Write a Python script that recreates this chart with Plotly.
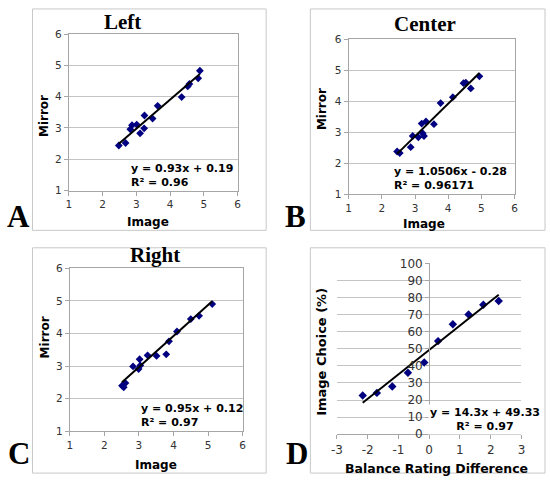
import plotly.graph_objects as go

W, H = 550, 483

# ---------------- data ----------------
left_image = [2.48, 2.68, 2.82, 2.87, 3.01, 3.11, 3.23, 3.24, 3.48, 3.63, 4.34, 4.52, 4.57, 4.83, 4.88]
left_mirror = [2.44, 2.52, 2.96, 3.09, 3.11, 2.83, 2.99, 3.40, 3.30, 3.71, 3.99, 4.33, 4.41, 4.59, 4.83]
left_fit = (0.93, 0.19)

center_image = [2.46, 2.54, 2.87, 2.93, 3.10, 3.20, 3.23, 3.27, 3.33, 3.57, 3.77, 4.14, 4.46, 4.53, 4.68, 4.94]
center_mirror = [2.38, 2.33, 2.52, 2.88, 2.84, 3.28, 2.97, 2.88, 3.35, 3.26, 3.94, 4.13, 4.58, 4.60, 4.41, 4.80]
center_fit = (1.0506, -0.28)

right_image = [2.51, 2.56, 2.61, 2.83, 2.99, 3.02, 3.04, 3.25, 3.51, 3.79, 3.87, 4.10, 4.50, 4.74, 5.12]
right_mirror = [2.40, 2.35, 2.48, 2.99, 2.91, 3.21, 3.02, 3.33, 3.31, 3.36, 3.76, 4.06, 4.44, 4.54, 4.90]
right_fit = (0.95, 0.12)

balance_diff = [-2.16, -1.70, -1.20, -0.69, -0.16, 0.29, 0.77, 1.28, 1.76, 2.26]
image_choice = [22.7, 24.2, 28.0, 36.0, 42.0, 54.5, 64.4, 70.1, 75.8, 78.0]
choice_fit = (14.3, 49.33)

titles = ["Left", "Center", "Right"]
letters = ["A", "B", "C", "D"]
eq_texts = ["y = 0.93x + 0.19<br>R² = 0.96",
            "y = 1.0506x - 0.28<br>R² = 0.96171",
            "y = 0.95x + 0.12<br>R² = 0.97",
            "y = 14.3x + 49.33<br>R² = 0.97"]
mirror_ticks = [1, 2, 3, 4, 5, 6]
choice_ticks = list(range(0, 101, 10))
diff_ticks = [-3, -2, -1, 0, 1, 2, 3]
diff_ticktext = ["-3", "-2", "-1", "0", "1", "2", "3"]

# ---------------- helpers ----------------
def fx(x):
    return x / W

def fy(y):
    return 1 - y / H

MARK = "#000080"
GRID = "#c4c4c4"
FRAME = "#a6a6a6"
TICKFONT = dict(family="DejaVu Sans", size=10.5, color="#333")
TICKFONT_D = dict(family="DejaVu Sans", size=12, color="#333")
BOLD = "DejaVu Sans"

fig = go.Figure()

panels = [
    dict(x=left_image, y=left_mirror, fit=left_fit, xd=(64, 236), yd=(28, 189)),
    dict(x=center_image, y=center_mirror, fit=center_fit, xd=(349, 518), yd=(33, 193)),
    dict(x=right_image, y=right_mirror, fit=right_fit, xd=(65, 241), yd=(269, 437)),
]

layout = dict(width=W, height=H, margin=dict(l=0, r=0, t=0, b=0),
              paper_bgcolor="white", plot_bgcolor="white", showlegend=False)

for i, p in enumerate(panels):
    n = i + 1
    xa = "x" if n == 1 else f"x{n}"
    ya = "y" if n == 1 else f"y{n}"
    fig.add_trace(go.Scatter(x=p["x"], y=p["y"], mode="markers", xaxis=xa, yaxis=ya,
                             marker=dict(symbol="diamond", size=6, color=MARK)))
    m, b = p["fit"]
    x0, x1 = min(p["x"]), max(p["x"])
    fig.add_trace(go.Scatter(x=[x0, x1], y=[m * x0 + b, m * x1 + b], mode="lines",
                             xaxis=xa, yaxis=ya, line=dict(color="black", width=2)))
    common = dict(showline=True, linecolor=FRAME, linewidth=1, mirror=True,
                  ticks="outside", ticklen=4, tickcolor=FRAME, tickfont=TICKFONT,
                  zeroline=False, tickvals=mirror_ticks, range=[1, 6])
    layout["xaxis" if n == 1 else f"xaxis{n}"] = dict(
        domain=[fx(p["xd"][0]), fx(p["xd"][1])], anchor=ya, showgrid=False, **common)
    layout["yaxis" if n == 1 else f"yaxis{n}"] = dict(
        domain=[fy(p["yd"][1]), fy(p["yd"][0])], anchor=xa, showgrid=True,
        gridcolor=GRID, gridwidth=1, **common)

# Panel D
fig.add_trace(go.Scatter(x=balance_diff, y=image_choice, mode="markers", xaxis="x4", yaxis="y4",
                         marker=dict(symbol="diamond", size=6.5, color=MARK)))
m, b = choice_fit
x0, x1 = min(balance_diff), max(balance_diff)
fig.add_trace(go.Scatter(x=[x0, x1], y=[m * x0 + b, m * x1 + b], mode="lines",
                         xaxis="x4", yaxis="y4", line=dict(color="black", width=2)))
dx0, dx1 = 337, 525
layout["xaxis4"] = dict(domain=[fx(dx0), fx(dx1)], anchor="y4", range=[-3, 3],
                        tickvals=diff_ticks, ticktext=diff_ticktext, showgrid=False, zeroline=False,
                        showline=True, linecolor=FRAME, ticks="outside", ticklen=4,
                        tickcolor=FRAME, tickfont=TICKFONT_D)
layout["yaxis4"] = dict(domain=[fy(440), fy(264)], anchor="free",
                        position=fx((dx0 + dx1) / 2), range=[0, 100], tickvals=choice_ticks,
                        showgrid=True, gridcolor=GRID, zeroline=False, showline=True,
                        linecolor=FRAME, ticks="outside", ticklen=4, tickcolor=FRAME,
                        tickfont=TICKFONT_D)

fig.update_layout(**layout)

# panel boxes
boxes = [(27, 2, 265, 230), (310, 2, 549, 230), (27, 248, 265, 480), (310, 248, 549, 480)]
for (x0, y0, x1, y1) in boxes:
    fig.add_shape(type="rect", xref="paper", yref="paper", x0=fx(x0), x1=fx(x1),
                  y0=fy(y1), y1=fy(y0), line=dict(color="#c8c8c8", width=1), layer="below")

ann = []
for t, (cx, cy) in zip(titles, [(119, 15), (427, 17), (152, 255)]):
    ann.append(dict(text="<b>%s</b>" % t, x=fx(cx), y=fy(cy),
                    font=dict(family="Liberation Serif", size=21, color="black")))
for t, (cx, cy) in zip(letters, [(13, 216), (295, 216), (13, 460), (296, 460)]):
    ann.append(dict(text="<b>%s</b>" % t, x=fx(cx), y=fy(cy),
                    font=dict(family="Liberation Serif", size=31, color="black")))
for t, (cx, cy), ang, sz in [("Mirror", (38, 112), -90, 12), ("Image", (145, 221), 0, 12),
                             ("Mirror", (322, 105), -90, 12), ("Image", (426, 223), 0, 12),
                             ("Mirror", (40, 340), -90, 12), ("Image", (153, 472), 0, 12),
                             ("Image Choice (%)", (322, 355), -90, 13),
                             ("Balance Rating Difference", (438, 475), 0, 12.5)]:
    ann.append(dict(text="<b>%s</b>" % t, x=fx(cx), y=fy(cy), textangle=ang,
                    font=dict(family=BOLD, size=sz, color="black")))
for t, (lx, cy), al in zip(eq_texts, [(125, 174), (393, 177), (135, 421), (488, 425)],
                           ["left", "left", "left", "center"]):
    a = dict(text="<b>%s</b>" % t, x=fx(lx), y=fy(cy), align=al,
             xanchor="left" if al == "left" else "center",
             font=dict(family=BOLD, size=11, color="black"))
    if al == "center":
        a["bgcolor"] = "white"
    ann.append(a)

for a in ann:
    a.setdefault("xref", "paper")
    a.setdefault("yref", "paper")
    a.setdefault("showarrow", False)
    a.setdefault("xanchor", "center")
    a.setdefault("yanchor", "middle")
fig.update_layout(annotations=ann)

fig.write_html("out.html", config={"displayModeBar": False},
               post_script="document.body.style.margin='0';")
